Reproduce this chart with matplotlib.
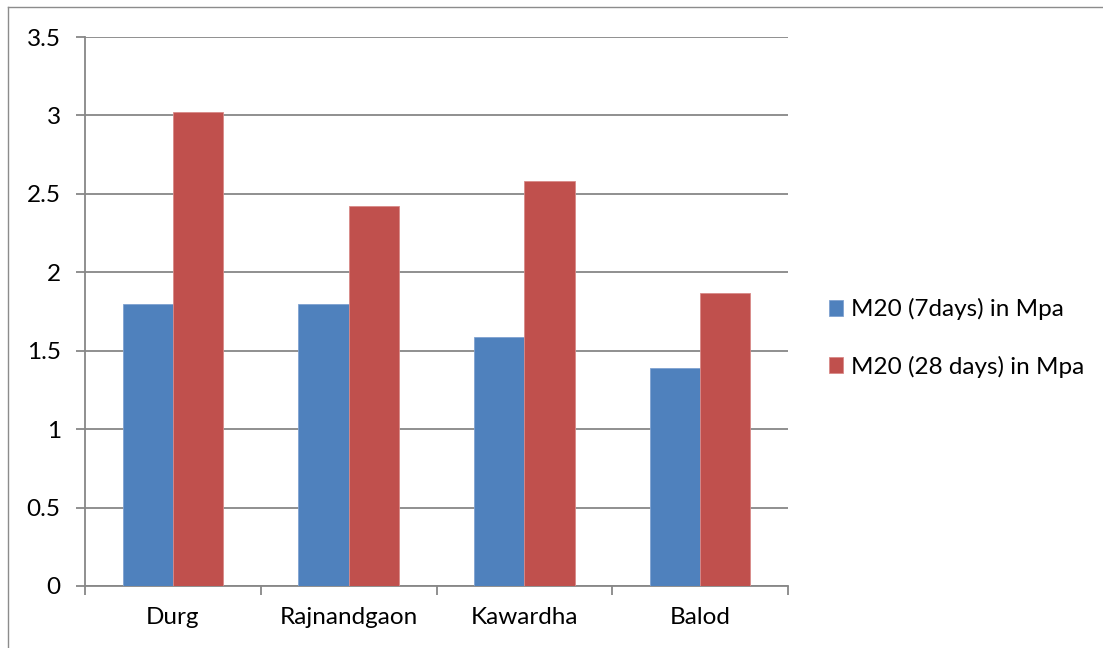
import matplotlib
matplotlib.use("Agg")
import matplotlib.pyplot as plt
import numpy as np
from matplotlib.lines import Line2D

# Compressive/flexural strength data by district
districts = ["Durg", "Rajnandgaon", "Kawardha", "Balod"]
m20_7days = [1.80, 1.80, 1.59, 1.39]
m20_28days = [3.02, 2.42, 2.58, 1.87]
series_labels = ["M20 (7days) in Mpa", "M20 (28 days) in Mpa"]
y_ticks = [0, 0.5, 1, 1.5, 2, 2.5, 3, 3.5]
y_tick_labels = ["0", "0.5", "1", "1.5", "2", "2.5", "3", "3.5"]

plt.rcParams["font.family"] = ["Lato", "DejaVu Sans"]

W, H, DPI = 1103, 648, 100
fig = plt.figure(figsize=(W / DPI, H / DPI), dpi=DPI)
fig.patch.set_facecolor("white")

# outer chart frame (left and top edges visible)
fig.add_artist(Line2D([8 / W, 8 / W], [0, 1 - 7 / H], transform=fig.transFigure,
                      color="#8c8c8c", lw=1.0))
fig.add_artist(Line2D([8 / W, 1], [1 - 7 / H, 1 - 7 / H], transform=fig.transFigure,
                      color="#8c8c8c", lw=1.0))

left, right = 85 / W, 788 / W
bottom, top = (H - 586) / H, (H - 37) / H
ax = fig.add_axes([left, bottom, right - left, top - bottom])

blue = "#4F81BD"
red = "#C0504D"
x = np.arange(len(districts))
bw = 1 / 3.5
ax.bar(x - bw / 2, m20_7days, width=bw, color=blue, edgecolor="#7fa2d0", linewidth=0.6,
       label=series_labels[0], zorder=3)
ax.bar(x + bw / 2, m20_28days, width=bw, color=red, edgecolor="#d98a88", linewidth=0.6,
       label=series_labels[1], zorder=3)

ax.set_xlim(-0.5, len(districts) - 0.5)
ax.set_ylim(0, 3.5)

fs = 17.5
grid_c = "#878787"
ax.set_yticks(y_ticks)
ax.set_yticklabels(y_tick_labels)
ax.yaxis.grid(True, color=grid_c, linewidth=1.3, zorder=0)
ax.set_axisbelow(True)

ax.set_xticks(x)
ax.set_xticklabels(districts)
ax.set_xticks(np.arange(-0.5, len(districts)), minor=True)
ax.tick_params(axis="x", which="major", length=0, pad=15, labelsize=fs, colors="black")
ax.tick_params(axis="x", which="minor", length=6.5, width=1.3, color=grid_c, direction="out")
ax.tick_params(axis="y", length=6.5, width=1.3, color=grid_c, pad=11, labelsize=fs,
               labelcolor="black")

for s in ["top", "right"]:
    ax.spines[s].set_visible(False)
for s in ["left", "bottom"]:
    ax.spines[s].set_color(grid_c)
    ax.spines[s].set_linewidth(1.3)

handles, labels = ax.get_legend_handles_labels()
fig.legend(handles, labels, loc="center left", bbox_to_anchor=(807 / W, 1 - 338 / H),
           frameon=False, fontsize=fs, handlelength=0.6, handleheight=0.6,
           handletextpad=0.3, labelspacing=1.45)

fig.savefig("out.png", dpi=DPI, facecolor="white")
